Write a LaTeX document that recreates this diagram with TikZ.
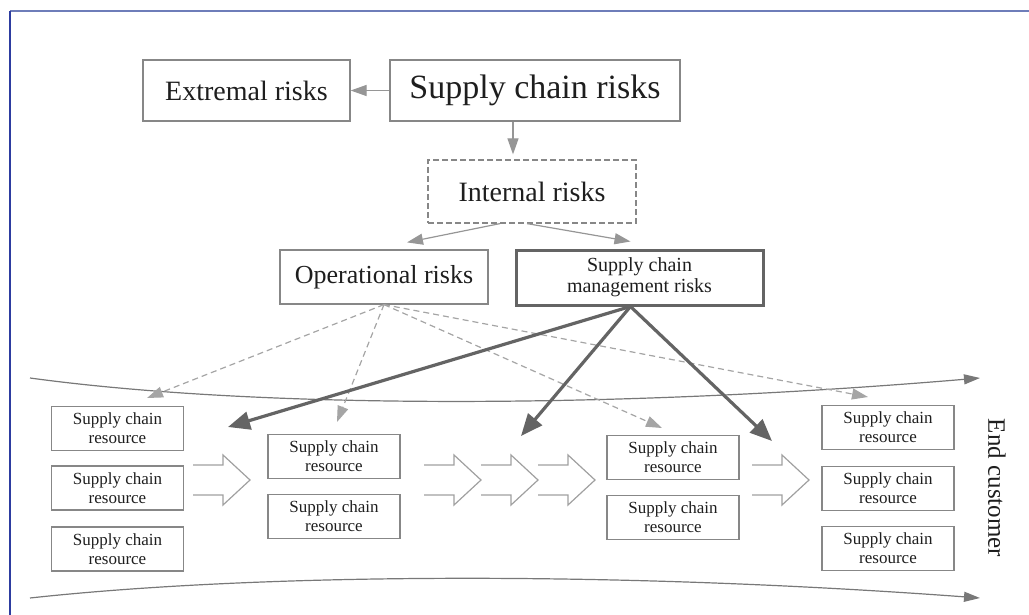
\documentclass[tikz,border=0pt]{standalone}
\usepackage{fontspec}
\setmainfont{Liberation Serif}
\usepackage{tikz}
\usetikzlibrary{arrows.meta,calc}

\definecolor{ink}{RGB}{30,30,30}
\definecolor{linegray}{RGB}{135,135,135}
\definecolor{thickgray}{RGB}{100,100,100}
\definecolor{arrowgray}{RGB}{150,150,150}
\definecolor{dashgray}{RGB}{165,165,165}
\definecolor{flowgray}{RGB}{120,120,120}
\definecolor{blockgray}{RGB}{160,160,160}
\definecolor{frametop}{RGB}{110,125,185}
\definecolor{frameleft}{RGB}{45,60,160}

\tikzset{
  riskbox/.style={draw=linegray, line width=0.6pt, text=ink, align=center, inner sep=0pt},
  resbox/.style={riskbox, minimum width=66pt, minimum height=22pt, font=\fontsize{8.5}{9.5}\selectfont},
  thinarrow/.style={draw=arrowgray, line width=0.6pt, -{Triangle[length=8pt,width=5.5pt]}},
  dasharrow/.style={thinarrow, draw=dashgray, dash pattern=on 3pt off 2pt},
  mgmtarrow/.style={draw=thickgray, line width=1.6pt, -{Triangle[length=11pt,width=9pt]}},
  flowline/.style={draw=flowgray, line width=0.6pt, -{Triangle[length=8pt,width=5pt]}},
}

\begin{document}
\begin{tikzpicture}[x=0.5pt, y=-0.5pt]
        \useasboundingbox (0,0) rectangle (1029,615);
        % frame
        \draw[frametop, line width=1.2pt] (1029,11) -- (10,11);
        \draw[frameleft, line width=1pt] (10,11) -- (10,615);

        % risks
        \node[riskbox, minimum width=145pt, minimum height=30.5pt, font=\fontsize{17}{20}\selectfont] (scr) at (535,90.5) {Supply chain risks};
        \node[riskbox, minimum width=103.5pt, minimum height=30.5pt, font=\fontsize{14}{17}\selectfont] (ext) at (246.5,90.5) {Extremal risks};
        \node[riskbox, dash pattern=on 3pt off 1.5pt, minimum width=104pt, minimum height=31.5pt, font=\fontsize{14}{17}\selectfont] (int) at (532,191.5) {Internal risks};
        \node[riskbox, minimum width=104pt, minimum height=27pt, font=\fontsize{13}{16}\selectfont] (op) at (384,277) {Operational risks};
        \node[riskbox, draw=thickgray, line width=1.5pt, minimum width=123.5pt, minimum height=27.5pt, font=\fontsize{10}{10.5}\selectfont] (scm) at (639.5,277.5) {Supply chain\\management risks};

        % resources
        \node[resbox] (r11) at (117.5,428.5) {Supply chain\\resource};
        \node[resbox] (r12) at (117.5,488) {Supply chain\\resource};
        \node[resbox] (r13) at (117.5,549) {Supply chain\\resource};
        \node[resbox] (r21) at (334,456.5) {Supply chain\\resource};
        \node[resbox] (r22) at (334,516.5) {Supply chain\\resource};
        \node[resbox] (r31) at (673,457.5) {Supply chain\\resource};
        \node[resbox] (r32) at (673,517.5) {Supply chain\\resource};
        \node[resbox] (r41) at (888,427.5) {Supply chain\\resource};
        \node[resbox] (r42) at (888,488.5) {Supply chain\\resource};
        \node[resbox] (r43) at (888,548.5) {Supply chain\\resource};
        \node[rotate=-90, text=ink, font=\fontsize{12.5}{15}\selectfont] (cust) at (997,488) {End customer};

        % flow
        \draw[flowline] (30,378) .. controls (250,408) and (600,410) .. (980,378);
        \draw[flowline] (30,598) .. controls (250,574) and (600,570) .. (980,598);
        \foreach \x in {193,424,481,538,752}
            \draw[blockgray, line width=0.6pt] (\x,465) -- ++(30,0) -- ++(0,-10) -- (\x+57,480) -- (\x+30,505) -- ++(0,-10) -- (\x,495);

        % tips
        \coordinate (d1) at (147,398);
        \coordinate (d2) at (337,422);
        \coordinate (d3) at (662,428);
        \coordinate (d4) at (868,397);
        \coordinate (m0) at ($(scm.south)+(-9,0)$);
        \coordinate (m1) at (228,427);
        \coordinate (m2) at (521,436);
        \coordinate (m3) at (772,441);

        % lines
        \draw[thinarrow] (scr.west) -- (ext.east);
        \draw[thinarrow] ($(scr.south)+(-22,0)$) -- ($(int.north)+(-19,-5)$);
        \draw[thinarrow] ($(int.south)+(-32,0)$) -- ($(op.north)+(23,-7)$);
        \draw[thinarrow] ($(int.south)+(-5,0)$) -- ($(scm.north)+(-9,-7)$);
        \foreach \t in {d1,d2,d3,d4}
            \draw[dasharrow] (op.south) -- (\t);
        \foreach \t in {m1,m2,m3}
            \draw[mgmtarrow] (m0) -- (\t);
\end{tikzpicture}
\end{document}
